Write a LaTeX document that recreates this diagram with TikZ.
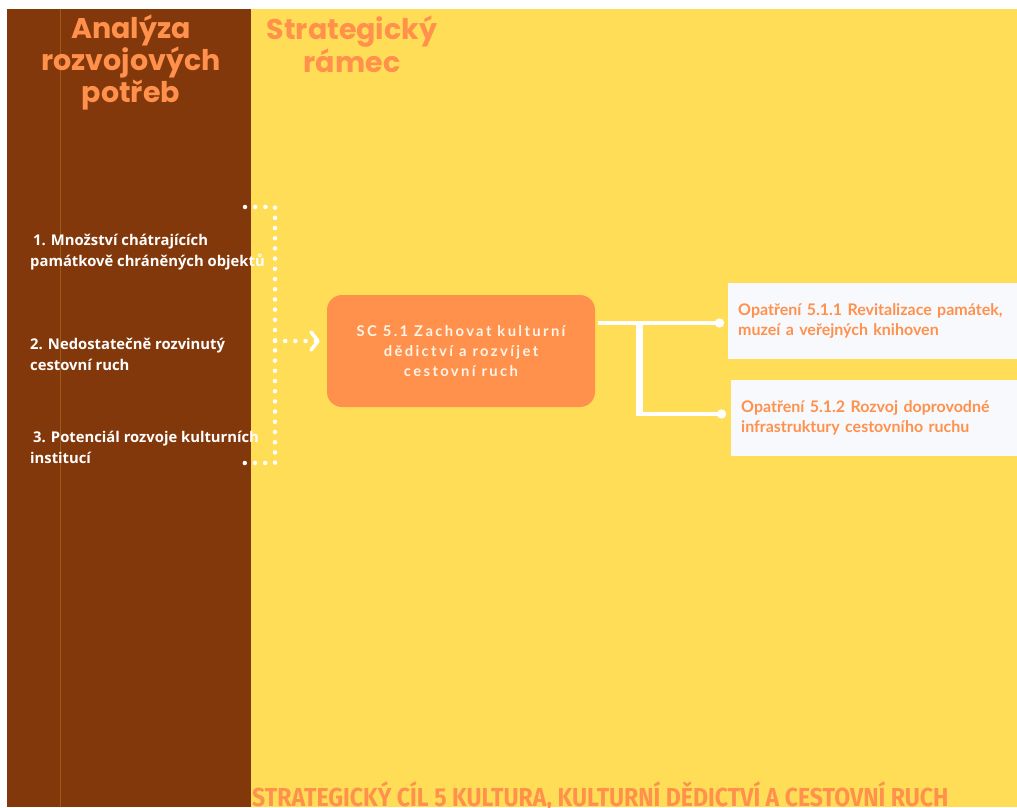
\documentclass[tikz,border=0pt]{standalone}
\usepackage{fontspec}
\setmainfont{Open Sans}
\newfontfamily\headFont{Poppins}
\newfontfamily\latoFont{Lato}
\newfontfamily\latoSpaced{Lato}[LetterSpace=16]
\newfontfamily\bannerFont{Fira Sans}
\usepackage{graphicx}
\usepackage{tikz}
\usetikzlibrary{positioning}
\usetikzlibrary{arrows.meta}
\definecolor{panelBrown}{RGB}{130,56,10}
\definecolor{panelYellow}{RGB}{255,221,87}
\definecolor{accentOrange}{RGB}{255,145,77}
\definecolor{cardWhite}{RGB}{248,249,252}
\definecolor{creamText}{RGB}{255,244,232}
\definecolor{ruleBrown}{RGB}{160,90,24}

\begin{document}
\begin{tikzpicture}[x=1pt,y=-1pt]

          \tikzstyle{titleText} = [accentOrange, inner sep=0pt, align=center, font=\headFont\bfseries\fontsize{28.5}{30}\selectfont];
          \tikzstyle{issueText} = [white, inner sep=0pt, align=left, font=\bfseries\fontsize{14.8}{20.5}\selectfont];
          \tikzstyle{goalBox} = [fill=accentOrange, rounded corners=15pt, minimum width=268pt, minimum height=112pt, text=creamText, align=center, font=\latoSpaced\bfseries\fontsize{14.8}{20}\selectfont];
          \tikzstyle{measureBox} = [fill=cardWhite, anchor=north west, minimum height=76pt, inner xsep=10pt, align=left, text=accentOrange, font=\latoFont\bfseries\fontsize{16}{20}\selectfont];
          \tikzstyle{bannerText} = [accentOrange, inner sep=0pt, font=\bannerFont\bfseries\fontsize{26}{28}\selectfont];

          \tikzstyle{dotLine} = [white, line width=4.5pt, line cap=round, dash pattern=on 0pt off 10.2pt];
          \tikzstyle{branchLine} = [white, line width=4.5pt];

          % panels
          \useasboundingbox (0,0) rectangle (1017,807);
          \fill[panelBrown] (7,9) rectangle (251,807);
          \fill[panelYellow] (251,9) rectangle (1017,807);
          \draw[ruleBrown, line width=0.8pt] (60,9) -- (60,807);

          % headings (base = last line)
          \node[titleText, anchor=base] (analysis) at (131,102) {Analýza\\rozvojových\\potřeb};
          \node[titleText, anchor=base] (framework) at (352,72) {Strategický\\rámec};

          % needs
          \node[issueText, anchor=base west] (issue1) at (30,266) {\hspace*{3pt}1. Množství chátrajících\\památkově chráněných objektů};
          \node[issueText, anchor=base west] (issue2) at (30,370) {2. Nedostatečně rozvinutý\\cestovní ruch};
          \node[issueText, anchor=base west] (issue3) at (30,463) {\hspace*{3pt}3. Potenciál rozvoje kulturních\\institucí};

          % goal and measures
          \node[goalBox] (goal) at (461,351) {SC 5.1 Zachovat kulturní\\dědictví a rozvíjet\\cestovní ruch};
          \node[measureBox, minimum width=289pt, text width=269pt] (measure1) at (728,283) {Opatření 5.1.1 Revitalizace památek,\\muzeí a veřejných knihoven};
          \node[measureBox, minimum width=286pt, text width=266pt] (measure2) at (731,380) {Opatření 5.1.2 Rozvoj doprovodné\\infrastruktury cestovního ruchu};

          \node[bannerText, anchor=base west] (banner) at (252,806) {\scalebox{0.887}[1]{STRATEGICKÝ CÍL 5 KULTURA, KULTURNÍ DĚDICTVÍ A CESTOVNÍ RUCH}};

          % bracket
          \coordinate (bracketTopEnd) at (245,207);
          \coordinate (bracketTop) at (275,207);
          \coordinate (bracketMid) at (275,341);
          \coordinate (bracketBottom) at (275,463);
          \coordinate (bracketBottomEnd) at (240,463);

          \draw[dotLine] (bracketTopEnd) -- (bracketTop) -- (bracketBottom) -- (bracketBottomEnd);
          \draw[dotLine, shorten >=7pt, -{Straight Barb[length=7pt, width=18pt, line width=3.5pt, round]}] (bracketMid) -- (goal.west |- bracketMid);

          % branches
          \coordinate (forkTop) at (639,323);
          \coordinate (forkBottom) at (639,414);

          \draw[branchLine, shorten <=3pt, shorten >=4pt, -{Circle[length=9pt]}] (goal.east |- forkTop) -- (measure1.west |- forkTop);
          \draw[white, line width=7pt] ([yshift=-2pt]forkTop) -- ([yshift=2pt]forkBottom);
          \draw[branchLine, shorten >=5pt, -{Circle[length=9pt]}] ([xshift=-3pt]forkBottom) -- (measure2.west |- forkBottom);
        \end{tikzpicture}
\end{document}
